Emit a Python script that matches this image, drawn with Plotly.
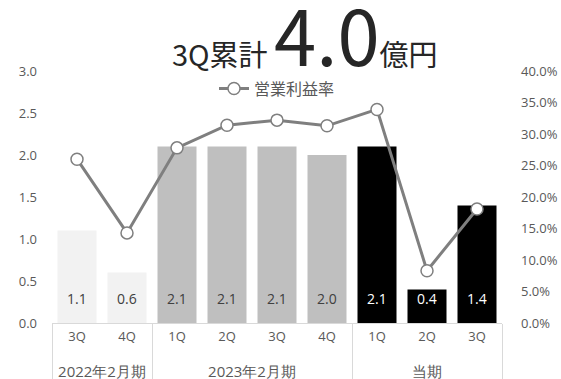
import plotly.graph_objects as go

groups = ["2022年2月期", "2022年2月期", "2023年2月期", "2023年2月期", "2023年2月期", "2023年2月期", "当期", "当期", "当期"]
quarters = ["3Q", "4Q", "1Q", "2Q", "3Q", "4Q", "1Q", "2Q", "3Q"]
sales = [1.1, 0.6, 2.1, 2.1, 2.1, 2.0, 2.1, 0.4, 1.4]
margin_rate = [0.260, 0.143, 0.278, 0.314, 0.322, 0.313, 0.339, 0.083, 0.181]
bar_colors = ["#F2F2F2", "#F2F2F2", "#BFBFBF", "#BFBFBF", "#BFBFBF", "#BFBFBF", "#000000", "#000000", "#000000"]
label_colors = ["#404040", "#404040", "#404040", "#404040", "#404040", "#404040", "#FFFFFF", "#FFFFFF", "#FFFFFF"]

JP = "Noto Sans CJK JP"
NUM = "Open Sans"
GRAY = "#595959"

# make inner labels unique per group (zero-width suffix) so plotly keeps the given order
group_order = list(dict.fromkeys(groups))
inner = [q + "\u200b" * group_order.index(g) for g, q in zip(groups, quarters)]
# extra line pushes the period row lower, as in the original
outer = ["<br><span style='font-size:15px'>" + g + "</span>" for g in groups]

fig = go.Figure()
fig.add_trace(go.Bar(
    x=[outer, inner], y=sales,
    marker=dict(color=bar_colors, line=dict(width=0)),
    showlegend=False, hoverinfo="skip",
))
fig.add_trace(go.Scatter(
    x=[outer, inner], y=margin_rate, yaxis="y2",
    mode="lines+markers", name="営業利益率",
    line=dict(color="#7F7F7F", width=3),
    marker=dict(symbol="circle", size=12, color="#FFFFFF", line=dict(color="#7F7F7F", width=1.5)),
))

annotations = []
for i, (v, c) in enumerate(zip(sales, label_colors)):
    annotations.append(dict(
        x=i, y=0, xref="x", yref="y", text=f"{v:.1f}", showarrow=False,
        yanchor="bottom", yshift=13, font=dict(family=NUM, size=14, color=c),
    ))
annotations.append(dict(
    x=0.562, y=1.0, xref="paper", yref="paper", xanchor="center", yanchor="bottom",
    yshift=-19, showarrow=False,
    text="3Q累計 <span style='font-size:76px'>4.0</span>億円",
    font=dict(family=JP, size=29, color="#262626"),
))

fig.update_layout(
    width=561, height=379,
    margin=dict(l=52, r=59, t=71, b=56, autoexpand=False),
    paper_bgcolor="white", plot_bgcolor="white",
    bargap=0.22,
    font=dict(family=NUM, color=GRAY, size=13),
    showlegend=True,
    legend=dict(orientation="h", x=0.5, xanchor="center", y=0.93, yanchor="middle",
                font=dict(family=JP, size=16, color=GRAY), bgcolor="rgba(0,0,0,0)"),
    xaxis=dict(type="multicategory", range=[-0.5, len(sales) - 0.5],
               showline=True, linecolor="#D9D9D9", linewidth=1,
               showdividers=True, dividercolor="#D9D9D9", dividerwidth=1, automargin=False,
               ticks="", ticklabelstandoff=1,
               tickfont=dict(family=NUM, size=13, color=GRAY), showgrid=False),
    yaxis=dict(range=[0, 3.0], dtick=0.5, tickformat=".1f", showgrid=False, zeroline=False,
               showline=False, ticks="", ticklabelstandoff=14, automargin=False,
               tickfont=dict(family=NUM, size=13, color=GRAY)),
    yaxis2=dict(range=[0, 0.40], dtick=0.05, tickformat=".1%", overlaying="y", side="right",
                showgrid=False, zeroline=False, showline=False, ticks="", ticklabelstandoff=18,
                automargin=False, tickfont=dict(family=NUM, size=13, color=GRAY)),
    annotations=annotations,
)

fig.write_html("out.html")
